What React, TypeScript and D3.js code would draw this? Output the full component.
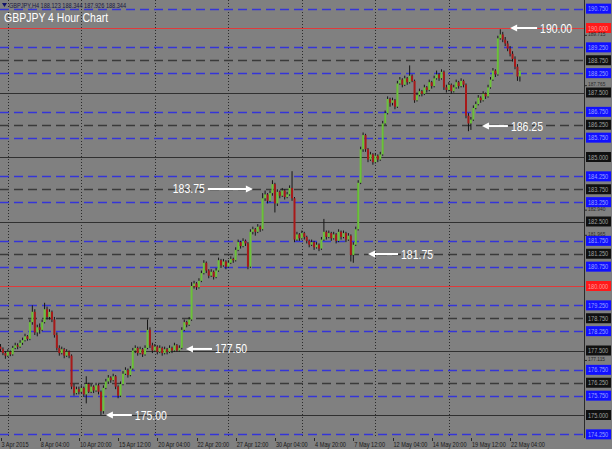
import React from 'react';
import * as d3 from 'd3';

const W = 612;
const H = 449;
const plotRight = 584;
const plotBottom = 438;

// 4h bars, [open, high, low, close], from 3 Apr 2015 12:00 to 22 May 2015 20:00
const candles: [number, number, number, number][] = [
  [177.65, 177.75, 177.45, 177.55], [177.55, 177.62, 177.32, 177.4], [177.4, 177.48, 177.18, 177.3],
  [177.3, 177.55, 177.25, 177.45], [177.45, 177.5, 177.28, 177.35], [177.35, 177.68, 177.3, 177.6],
  [177.6, 177.8, 177.55, 177.7], [177.7, 177.78, 177.55, 177.65], [177.65, 177.9, 177.6, 177.8],
  [177.8, 178.0, 177.72, 177.9], [177.9, 178.15, 177.85, 178.05], [178.05, 178.1, 177.88, 177.95],
  [177.95, 178.7, 177.9, 178.6], [178.6, 179.25, 178.5, 179.0], [179.0, 179.1, 178.1, 178.2],
  [178.2, 178.5, 178.05, 178.4], [178.4, 178.55, 178.15, 178.3], [178.3, 178.7, 178.25, 178.6],
  [178.6, 179.35, 178.55, 179.1], [179.1, 179.2, 178.7, 178.8], [178.8, 179.1, 178.7, 179.0],
  [179.0, 179.05, 178.6, 178.7], [178.7, 178.8, 178.0, 178.1], [178.1, 178.2, 177.5, 177.6],
  [177.6, 177.7, 177.3, 177.4], [177.4, 177.65, 177.35, 177.55], [177.55, 177.6, 177.2, 177.3],
  [177.3, 177.55, 177.25, 177.45], [177.45, 177.5, 177.2, 177.3], [177.3, 177.35, 176.0, 176.1],
  [176.1, 176.2, 175.75, 175.85], [175.85, 176.1, 175.8, 176.0], [176.0, 176.1, 175.8, 175.9],
  [175.9, 176.15, 175.85, 176.05], [176.05, 176.1, 175.7, 175.8], [175.8, 176.5, 175.45, 176.2],
  [176.2, 176.25, 175.85, 175.9], [175.9, 176.2, 175.85, 176.1], [176.1, 176.15, 175.85, 175.95],
  [175.95, 176.25, 175.9, 176.15], [176.15, 176.2, 175.8, 175.9], [175.9, 175.95, 175.0, 175.15],
  [175.15, 176.15, 175.05, 176.05], [176.05, 176.4, 176.0, 176.3], [176.3, 176.55, 176.2, 176.45],
  [176.45, 176.5, 176.25, 176.35], [176.35, 176.6, 176.3, 176.5], [176.5, 176.55, 176.0, 176.1],
  [176.1, 176.15, 175.65, 175.75], [175.75, 176.3, 175.7, 176.2], [176.2, 176.7, 176.15, 176.6],
  [176.6, 176.85, 176.55, 176.75], [176.75, 176.8, 176.45, 176.55], [176.55, 176.9, 176.5, 176.8],
  [176.8, 177.6, 176.75, 177.5], [177.5, 177.7, 177.4, 177.6], [177.6, 177.65, 177.3, 177.4],
  [177.4, 177.65, 177.35, 177.55], [177.55, 177.6, 177.25, 177.35], [177.35, 177.7, 177.3, 177.6],
  [177.6, 178.7, 177.55, 178.3], [178.3, 178.4, 177.6, 177.7], [177.7, 177.8, 177.4, 177.5],
  [177.5, 177.75, 177.45, 177.65], [177.65, 177.7, 177.35, 177.45], [177.45, 177.7, 177.4, 177.6],
  [177.6, 177.65, 177.3, 177.4], [177.4, 177.65, 177.35, 177.55], [177.55, 177.6, 177.35, 177.45],
  [177.45, 177.7, 177.4, 177.6], [177.6, 177.65, 177.4, 177.5], [177.5, 177.8, 177.45, 177.7],
  [177.7, 177.75, 177.45, 177.5], [177.5, 177.7, 177.45, 177.6], [177.6, 178.4, 177.55, 178.3],
  [178.3, 178.7, 178.25, 178.6], [178.6, 178.65, 178.4, 178.5], [178.5, 178.8, 178.45, 178.7],
  [178.7, 180.15, 178.65, 180.0], [180.0, 180.2, 179.9, 180.1], [180.1, 180.15, 179.85, 179.95],
  [179.95, 180.3, 179.9, 180.2], [180.2, 180.6, 180.15, 180.5], [180.5, 181.0, 180.45, 180.9],
  [180.9, 180.95, 180.5, 180.6], [180.6, 180.65, 180.3, 180.4], [180.4, 180.65, 180.35, 180.55],
  [180.55, 180.6, 180.25, 180.35], [180.35, 180.7, 180.3, 180.6], [180.6, 181.1, 180.55, 181.0],
  [181.0, 181.05, 180.7, 180.8], [180.8, 181.05, 180.75, 180.95], [180.95, 181.0, 180.65, 180.75],
  [180.75, 181.0, 180.7, 180.9], [180.9, 181.15, 180.85, 181.05], [181.05, 181.1, 180.9, 181.0],
  [181.0, 181.5, 180.95, 181.4], [181.4, 181.8, 181.35, 181.7], [181.7, 181.75, 181.45, 181.55],
  [181.55, 181.85, 181.5, 181.75], [181.75, 181.8, 181.55, 181.65], [181.65, 181.7, 180.65, 180.75],
  [180.75, 182.2, 180.7, 182.1], [182.1, 182.3, 182.0, 182.2], [182.2, 182.25, 181.95, 182.1],
  [182.1, 182.4, 182.05, 182.3], [182.3, 182.35, 182.1, 182.2], [182.2, 183.6, 182.15, 183.4],
  [183.4, 183.7, 183.3, 183.55], [183.55, 183.6, 183.2, 183.3], [183.3, 183.7, 183.25, 183.6],
  [183.6, 184.1, 183.5, 183.95], [183.95, 184.0, 182.85, 183.2], [183.2, 183.75, 183.1, 183.65],
  [183.65, 183.7, 183.4, 183.5], [183.5, 183.8, 183.45, 183.7], [183.7, 183.75, 183.35, 183.45],
  [183.45, 183.65, 183.4, 183.55], [183.55, 183.9, 183.5, 183.8], [183.8, 184.45, 183.3, 183.4],
  [183.4, 183.45, 181.7, 181.8], [181.8, 182.1, 181.75, 182.0], [182.0, 182.05, 181.75, 181.85],
  [181.85, 182.15, 181.8, 182.05], [182.05, 182.1, 181.8, 181.9], [181.9, 181.95, 181.65, 181.75],
  [181.75, 181.8, 181.5, 181.6], [181.6, 181.8, 181.55, 181.7], [181.7, 181.75, 181.4, 181.5],
  [181.5, 181.7, 181.45, 181.6], [181.6, 181.65, 181.35, 181.45], [181.45, 181.9, 181.4, 181.8],
  [181.8, 182.6, 181.75, 182.1], [182.1, 182.15, 181.8, 181.9], [181.9, 182.15, 181.85, 182.05],
  [182.05, 182.1, 181.75, 181.85], [181.85, 182.1, 181.8, 182.0], [182.0, 182.05, 181.65, 181.75],
  [181.75, 182.2, 181.7, 182.1], [182.1, 182.15, 181.8, 181.9], [181.9, 182.15, 181.85, 182.05],
  [182.05, 182.1, 181.7, 181.8], [181.8, 182.05, 181.75, 181.95], [181.95, 182.0, 180.95, 181.2],
  [181.2, 181.7, 180.9, 181.6], [181.6, 182.3, 181.55, 182.2], [182.2, 184.1, 182.15, 184.0],
  [184.0, 185.4, 183.95, 185.3], [185.3, 185.95, 185.2, 185.85], [185.85, 185.9, 185.2, 185.3],
  [185.3, 185.35, 184.8, 184.9], [184.9, 185.2, 184.85, 185.1], [185.1, 185.15, 184.7, 184.8],
  [184.8, 185.15, 184.75, 185.05], [185.05, 185.1, 184.8, 184.9], [184.9, 185.2, 184.85, 185.1],
  [185.1, 186.4, 185.05, 186.3], [186.3, 186.8, 186.25, 186.7], [186.7, 187.35, 186.65, 187.25],
  [187.25, 187.3, 186.95, 187.1], [187.1, 187.3, 187.0, 187.2], [187.2, 187.25, 186.85, 186.95],
  [186.95, 187.95, 186.9, 187.85], [187.85, 188.1, 187.8, 188.0], [188.0, 188.05, 187.7, 187.8],
  [187.8, 188.15, 187.75, 188.05], [188.05, 188.1, 187.8, 187.9], [187.9, 188.55, 187.85, 188.15],
  [188.15, 188.2, 187.9, 187.95], [187.95, 188.0, 187.1, 187.2], [187.2, 187.5, 187.15, 187.4],
  [187.4, 187.65, 187.35, 187.55], [187.55, 187.6, 187.35, 187.45], [187.45, 187.8, 187.4, 187.7],
  [187.7, 187.75, 187.5, 187.6], [187.6, 188.0, 187.55, 187.9], [187.9, 187.95, 187.65, 187.75],
  [187.75, 188.15, 187.7, 188.05], [188.05, 188.35, 188.0, 188.2], [188.2, 188.25, 187.95, 188.05],
  [188.05, 188.4, 188.0, 188.3], [188.3, 188.35, 187.6, 187.7], [187.7, 187.8, 187.5, 187.6],
  [187.6, 187.9, 187.55, 187.8], [187.8, 187.85, 187.45, 187.55], [187.55, 187.8, 187.5, 187.7],
  [187.7, 188.0, 187.65, 187.9], [187.9, 187.95, 187.65, 187.75], [187.75, 188.05, 187.7, 187.95],
  [187.95, 188.0, 187.7, 187.8], [187.8, 187.85, 186.5, 186.6], [186.6, 186.7, 186.0, 186.3],
  [186.3, 186.55, 186.05, 186.45], [186.45, 187.0, 186.4, 186.9], [186.9, 187.15, 186.85, 187.05],
  [187.05, 187.4, 187.0, 187.3], [187.3, 187.35, 187.1, 187.2], [187.2, 187.55, 187.15, 187.45],
  [187.45, 187.5, 187.25, 187.35], [187.35, 187.8, 187.3, 187.7], [187.7, 188.1, 187.65, 188.0],
  [188.0, 188.45, 187.95, 188.35], [188.35, 188.4, 188.1, 188.2], [188.2, 189.7, 188.15, 189.6],
  [189.6, 189.95, 189.55, 189.75], [189.75, 189.85, 189.45, 189.55], [189.55, 189.65, 189.3, 189.4],
  [189.4, 189.5, 189.1, 189.2], [189.2, 189.3, 188.9, 189.0], [189.0, 189.1, 188.7, 188.8],
  [188.8, 188.9, 188.4, 188.5], [188.5, 188.6, 187.95, 188.12], [188.123, 188.344, 187.926, 188.344],
];

const dateTicks: [number, string][] = [
  [0, '3 Apr 2015'], [16, '8 Apr 04:00'], [32, '10 Apr 20:00'], [48, '15 Apr 12:00'],
  [64, '20 Apr 04:00'], [80, '22 Apr 20:00'], [96, '27 Apr 12:00'], [112, '30 Apr 04:00'],
  [128, '4 May 20:00'], [144, '7 May 12:00'], [160, '12 May 04:00'], [176, '14 May 20:00'],
  [192, '19 May 12:00'], [208, '22 May 04:00'],
];

// Monday 00:00 bars
const weekStarts = [3, 33, 63, 93, 123, 153, 183];

const solidLevels = [175, 177.5, 182.5, 185, 187.5];
const redLevels = [180, 190];
const blueLevels = [174.25, 175.75, 176.75, 178.25, 179.25, 180.75, 181.75, 183.25, 184.25, 185.75, 186.75, 188.25, 189.25, 190.75];
const greyDashLevels = [176.25, 178.75, 181.25, 183.75, 186.25, 188.75];

// default scale labels that still show between the level boxes
const scaleLabels = [189.715, 187.765, 182.94, 181.965, 177.115];

const notes: { text: string; bar: number; price: number; dir: 'left' | 'right'; len: number }[] = [
  { text: '190.00', bar: 208, price: 190.0, dir: 'left', len: 27 },
  { text: '186.25', bar: 196.5, price: 186.2, dir: 'left', len: 26 },
  { text: '183.75', bar: 103, price: 183.76, dir: 'right', len: 45 },
  { text: '181.75', bar: 150, price: 181.24, dir: 'left', len: 30 },
  { text: '177.50', bar: 75.7, price: 177.56, dir: 'left', len: 26 },
  { text: '175.00', bar: 43, price: 175.0, dir: 'left', len: 26 },
];

const x = d3.scaleLinear().domain([0, 212]).range([0.5, 0.5 + 212 * 2.45]);
const y = d3.scaleLinear().domain([175, 190]).range([415, 28]);

const SX = 0.8;

const Txt = ({ tx, ty, size, fill, children, anchor = 'start', sx = SX }: any) => (
  <text
    transform={`translate(${tx},${ty}) scale(${sx},1)`}
    fontSize={size}
    fill={fill}
    textAnchor={anchor}
    fontFamily="Liberation Sans, Arial, sans-serif"
  >
    {children}
  </text>
);

const Arrow = ({ x1, x2, yy }: { x1: number; x2: number; yy: number }) => {
  // head at x1
  const d = x2 > x1 ? 1 : -1;
  return (
    <g>
      <line x1={x1 + d * 5} x2={x2} y1={yy} y2={yy} stroke="#fff" strokeWidth={2} />
      <path d={`M${x1},${yy} L${x1 + d * 7},${yy - 3.5} L${x1 + d * 7},${yy + 3.5} Z`} fill="#fff" />
    </g>
  );
};

export default function App() {
  const boxLevels = [
    ...blueLevels.map((p) => ({ p, bg: '#1010ff', fg: '#9aa0ff' })),
    ...greyDashLevels.map((p) => ({ p, bg: '#101010', fg: '#a0a0a0' })),
    ...solidLevels.map((p) => ({ p, bg: '#101010', fg: '#a0a0a0' })),
    ...redLevels.map((p) => ({ p, bg: '#ff1a1a', fg: '#ff9a9a' })),
  ];

  return (
    <svg width={W} height={H} style={{ position: 'fixed', left: 0, top: 0, background: '#808080' }}>
      <rect x={0} y={0} width={W} height={H} fill="#808080" />

      {/* weekly dotted grid */}
      {weekStarts.map((b) => (
        <line key={'v' + b} x1={Math.round(x(b)) + 0.5} x2={Math.round(x(b)) + 0.5} y1={0} y2={plotBottom}
          stroke="#2a2a2a" strokeWidth={1} strokeDasharray="1,2" />
      ))}

      {/* horizontal levels */}
      {solidLevels.map((p) => (
        <line key={'s' + p} x1={0} x2={plotRight} y1={Math.round(y(p)) + 0.5} y2={Math.round(y(p)) + 0.5} stroke="#303030" strokeWidth={1} />
      ))}
      {redLevels.map((p) => (
        <line key={'r' + p} x1={0} x2={plotRight} y1={Math.round(y(p)) + 0.5} y2={Math.round(y(p)) + 0.5} stroke="#e03a3a" strokeWidth={1} />
      ))}
      {blueLevels.map((p) => (
        <line key={'b' + p} x1={0} x2={plotRight} y1={Math.round(y(p)) + 0.5} y2={Math.round(y(p)) + 0.5} stroke="#3535d8" strokeWidth={1.3} strokeDasharray="9,5" />
      ))}
      {greyDashLevels.map((p) => (
        <line key={'g' + p} x1={0} x2={plotRight} y1={Math.round(y(p)) + 0.5} y2={Math.round(y(p)) + 0.5} stroke="#3a3a3a" strokeWidth={1.3} strokeDasharray="9,5" />
      ))}

      {/* candles */}
      {candles.map(([o, h, l, c], i) => {
        const cx = x(i);
        const up = c >= o;
        const top = y(Math.max(o, c));
        const bh = Math.max(1, Math.abs(y(o) - y(c)));
        return (
          <g key={'c' + i}>
            <line x1={cx} x2={cx} y1={y(h)} y2={y(l)} stroke="#161616" strokeWidth={1} />
            <rect x={cx - 1} y={top} width={2} height={bh} fill={up ? '#6cc23a' : '#a81a1a'} />
          </g>
        );
      })}

      {/* annotations */}
      {notes.map((n) => {
        const hx = x(n.bar);
        const yy = y(n.price);
        if (n.dir === 'left') {
          const tail = hx + n.len;
          return (
            <g key={n.text}>
              <Arrow x1={hx} x2={tail} yy={yy} />
              <Txt tx={tail + 3} ty={yy + 4.5} size={12.5} fill="#fff" sx={0.84}>{n.text}</Txt>
            </g>
          );
        }
        const tail = hx - n.len;
        return (
          <g key={n.text}>
            <Arrow x1={hx} x2={tail} yy={yy} />
            <Txt tx={tail - 3} ty={yy + 4.5} size={12.5} fill="#fff" anchor="end" sx={0.84}>{n.text}</Txt>
          </g>
        );
      })}

      {/* header */}
      <path d="M2,3 L7,3 L4.5,7 Z" fill="#10106a" />
      <Txt tx={9} ty={7.5} size={7} fill="#1a1a40">GBPJPY,H4  188.123 188.344 187.926 188.344</Txt>
      <Txt tx={4} ty={22} size={12.5} fill="#fff" sx={0.84}>GBPJPY 4 Hour Chart</Txt>

      {/* price scale */}
      <line x1={plotRight + 0.5} x2={plotRight + 0.5} y1={0} y2={plotBottom} stroke="#2a2a2a" strokeWidth={1} />
      {boxLevels.map(({ p, bg, fg }) => (
        <g key={'bx' + p}>
          <rect x={586} y={y(p) - 5} width={25} height={10} fill={bg} />
          <Txt tx={588} ty={y(p) + 2.5} size={7} fill={fg}>{p.toFixed(3)}</Txt>
        </g>
      ))}
      {scaleLabels.map((p) => (
        <g key={'sl' + p}>
          <line x1={plotRight} x2={plotRight + 3} y1={y(p)} y2={y(p)} stroke="#2a2a2a" />
          <Txt tx={588} ty={y(p) + 0.5} size={6} fill="#2a2a2a">{p.toFixed(3)}</Txt>
        </g>
      ))}

      {/* time scale */}
      {dateTicks.map(([b, s]) => (
        <g key={'d' + b}>
          <line x1={Math.round(x(b)) + 0.5} x2={Math.round(x(b)) + 0.5} y1={plotBottom} y2={plotBottom + 3} stroke="#2a2a2a" />
          <Txt tx={x(b) + 1} ty={447} size={7} fill="#1a1a1a">{s}</Txt>
        </g>
      ))}
    </svg>
  );
}
